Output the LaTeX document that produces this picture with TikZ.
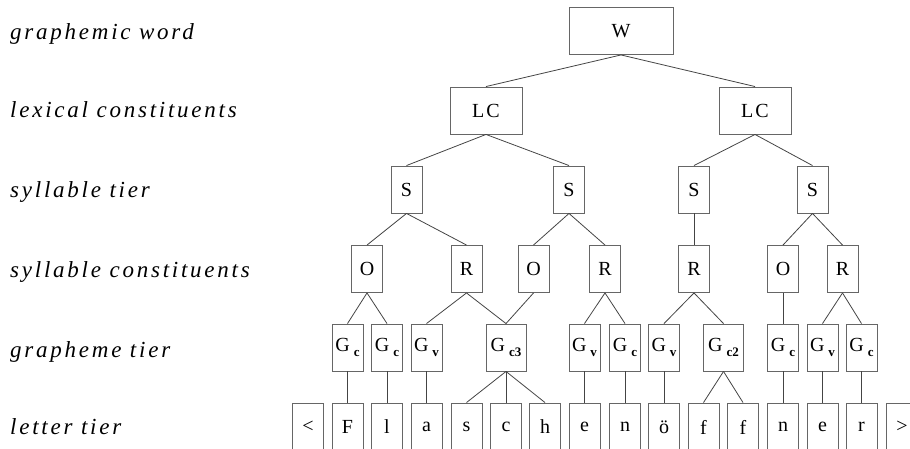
\documentclass[tikz,border=0pt]{standalone}
\usepackage{fontspec}
\setmainfont{Liberation Serif}
\newfontfamily\tierfont[LetterSpace=12]{Liberation Serif}
\usetikzlibrary{positioning}
\definecolor{boxgray}{HTML}{666666}
\definecolor{linegray}{HTML}{444444}
\newcommand{\gsub}[1]{G\kern4pt\raisebox{-5pt}{\fontsize{13}{13}\selectfont\bfseries #1}}

\begin{document}
\begin{tikzpicture}[x=1pt,y=-1pt,
    box/.style={draw=boxgray,line width=0.9pt,inner sep=0pt,minimum width=31,minimum height=47,font=\fontsize{20}{24}\selectfont},
    gbox/.style={box,minimum width=31},
    letter/.style={box,minimum width=31,minimum height=48},
    tier/.style={anchor=base west,inner sep=0pt,font=\tierfont\itshape\fontsize{23}{28}\selectfont},
    every edge/.style={draw=linegray,line width=0.8pt}]
	\useasboundingbox (0,0) rectangle (910,449);
	% tiers
	\node[tier] (tw) at (10,40) {graphemic word};
	\node[tier] (tlc) at (10,118) {lexical constituents};
	\node[tier] (ts) at (10,198) {syllable tier};
	\node[tier] (tsc) at (10,277) {syllable constituents};
	\node[tier] (tg) at (10,357) {grapheme tier};
	\node[tier] (tl) at (10,434) {letter tier};
	% word and lexical constituents
	\node[box,minimum width=104] (w) at (621,31) {W};
	\node[box,minimum width=72] (lcA) at (486,110.5) {L\kern2pt C};
	\node[box,minimum width=72] (lcB) at (755,110.5) {L\kern2pt C};
	% syllables
	\node[box] (sA) at (406.5,189.5) {S};
	\node[box] (sB) at (569,189.5) {S};
	\node[box] (sC) at (694,189.5) {S};
	\node[box] (sD) at (812.5,189.5) {S};
	\node[box] (oA) at (367,269) {O};
	\node[box] (rA) at (466.5,269) {R};
	\node[box] (oB) at (533.5,269) {O};
	\node[box] (rB) at (605,269) {R};
	\node[box] (rC) at (694,269) {R};
	\node[box] (oC) at (783,269) {O};
	\node[box] (rD) at (842.5,269) {R};
	% graphemes
	\node[gbox] (gA) at (347.5,347.5) {\gsub{c}};
	\node[gbox] (gB) at (387,347.5) {\gsub{c}};
	\node[gbox] (gC) at (426.5,347.5) {\gsub{v}};
	\node[gbox,minimum width=40] (gD) at (506,347.5) {\gsub{c3}};
	\node[gbox] (gE) at (584.5,347.5) {\gsub{v}};
	\node[gbox] (gF) at (625,347.5) {\gsub{c}};
	\node[gbox] (gG) at (664,347.5) {\gsub{v}};
	\node[gbox,minimum width=40] (gH) at (723.5,347.5) {\gsub{c2}};
	\node[gbox] (gI) at (783,347.5) {\gsub{c}};
	\node[gbox] (gJ) at (822.5,347.5) {\gsub{v}};
	\node[gbox] (gK) at (861.5,347.5) {\gsub{c}};
	% letters
	\foreach \x/\t [count=\i] in {308/<,347.5/F,387/l,426.5/a,466.5/s,506/c,545/h,584.5/e,
	    625/n,664/ö,703.5/f,743/f,783/n,822.5/e,861.5/r,902/>}
	    \node[letter] (l\i) at (\x,427) {\t};
    \path
    (w.south) edge (lcA.north) edge (lcB.north)
    (lcA.south) edge (sA.north) edge (sB.north)
    (lcB.south) edge (sC.north) edge (sD.north)
    (sA.south) edge (oA.north) edge (rA.north)
    (sB.south) edge (oB.north) edge (rB.north)
    (sC.south) edge (rC.north)
    (sD.south) edge (oC.north) edge (rD.north)
    (oA.south) edge (gA.north) edge (gB.north)
    (rA.south) edge (gC.north) edge (gD.north)
    (oB.south) edge (gD.north)
    (rB.south) edge (gE.north) edge (gF.north)
    (rC.south) edge (gG.north) edge (gH.north)
    (oC.south) edge (gI.north)
    (rD.south) edge (gJ.north) edge (gK.north)
    (gA.south) edge (l2.north)
    (gB.south) edge (l3.north)
    (gC.south) edge (l4.north)
    (gD.south) edge (l5.north) edge (l6.north) edge (l7.north)
    (gE.south) edge (l8.north)
    (gF.south) edge (l9.north)
    (gG.south) edge (l10.north)
    (gH.south) edge (l11.north) edge (l12.north)
    (gI.south) edge (l13.north)
    (gJ.south) edge (l14.north)
    (gK.south) edge (l15.north)
    ;
\end{tikzpicture}
\end{document}
